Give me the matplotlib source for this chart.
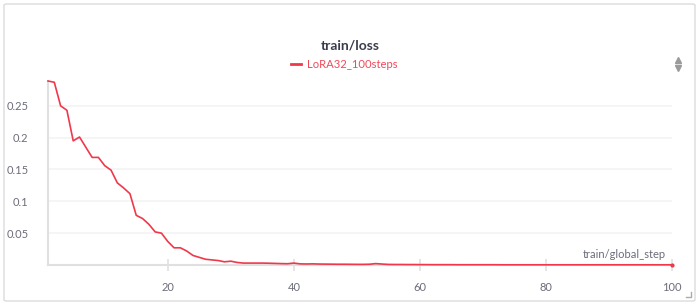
import matplotlib.pyplot as plt
from matplotlib.patches import FancyBboxPatch
from matplotlib.lines import Line2D

plt.rcParams['font.family'] = ['Lato', 'DejaVu Sans']

steps = list(range(1, 101))
loss_head = [0.289, 0.287, 0.250, 0.243, 0.195, 0.201, 0.185, 0.169, 0.169, 0.156,
             0.149, 0.129, 0.121, 0.112, 0.078, 0.073, 0.064, 0.052, 0.050, 0.037,
             0.027, 0.027, 0.022, 0.015, 0.012, 0.009, 0.008, 0.007, 0.005, 0.006,
             0.004, 0.003, 0.003, 0.003, 0.003, 0.0028, 0.0025, 0.0022, 0.002, 0.003,
             0.0018, 0.0016, 0.0018, 0.0015, 0.0014, 0.0013, 0.0012, 0.0012, 0.0011, 0.001,
             0.001, 0.0012, 0.0022, 0.0015, 0.0009, 0.0008, 0.0008, 0.0007, 0.0007, 0.0006]
loss_tail = [0.0006, 0.0005, 0.0005, 0.0005, 0.0005, 0.0004, 0.0004, 0.0004, 0.0004, 0.0004,
             0.0004, 0.0004, 0.0003, 0.0003, 0.0003, 0.0003, 0.0003, 0.0003, 0.0003, 0.0003,
             0.0003, 0.0003, 0.0003, 0.0003, 0.0003, 0.0003, 0.0003, 0.0003, 0.0003, 0.0003,
             0.0003, 0.0003, 0.0003, 0.0003, 0.0003, 0.0003, 0.0003, 0.0003, 0.0003, 0.0003]
loss = loss_head + loss_tail
yticks = [0.05, 0.1, 0.15, 0.2, 0.25]
ytick_labels = ['0.05', '0.1', '0.15', '0.2', '0.25']
xticks = [20, 40, 60, 80, 100]

red = '#f0384a'
label_grey = '#6b6d7a'
spine_grey = '#e0e0e0'

fig = plt.figure(figsize=(7, 3.05), dpi=100)

# panel frame, kept behind the axes
frame = FancyBboxPatch((4 / 700, 4 / 305), 691 / 700, 297 / 305,
                       boxstyle='round,pad=0,rounding_size=0.004',
                       transform=fig.transFigure, facecolor='white',
                       edgecolor='#dcdcdc', linewidth=1.0, zorder=-5)
fig.patches.append(frame)

ax = fig.add_axes([48 / 700, 1 - 265 / 305, 624 / 700, 184 / 305])
ax.set_zorder(2)
ax.set_facecolor('none')
# line sits above the spines so the flat tail stays red
ax.plot(steps, loss, color=red, linewidth=1.2, clip_on=False, zorder=4)
ax.plot(steps[-1], loss[-1], 'o', color=red, markersize=2, clip_on=False, zorder=4)
ax.set_xlim(1, 100)
ax.set_ylim(0, max(loss))

ax.set_yticks(yticks)
ax.set_yticklabels(ytick_labels)
ax.set_xticks(xticks)
ax.grid(axis='y', color='#f3f3f3', linewidth=1.2)
ax.set_axisbelow(True)

for side in ['top', 'right']:
    ax.spines[side].set_visible(False)
for side in ['left', 'bottom']:
    ax.spines[side].set_color(spine_grey)
    ax.spines[side].set_linewidth(1.5)

ax.tick_params(axis='y', length=0, pad=14, labelsize=8, labelcolor=label_grey)
ax.tick_params(axis='x', direction='inout', length=9, width=1.2, color=spine_grey,
               pad=8, labelsize=8, labelcolor=label_grey)

ax.text(0.99, 0.025, 'train/global_step', transform=ax.transAxes, ha='right', va='bottom',
        fontsize=8, color=label_grey)

fig.text(350 / 700, 1 - 46 / 305, 'train/loss', ha='center', va='center',
         fontsize=10, fontweight='bold', color='#3b3d4c')
fig.add_artist(Line2D([291 / 700, 301 / 700], [1 - 64 / 305, 1 - 64 / 305],
                      transform=fig.transFigure, color=red, linewidth=2))
fig.text(307 / 700, 1 - 64 / 305, 'LoRA32_100steps', ha='left', va='center',
         fontsize=8.1, color='#f04a5a')

# sort arrows and resize corner
fig.add_artist(Line2D([678 / 700], [1 - 60 / 305], transform=fig.transFigure,
                      marker='^', color='#9a9a9a', markersize=4, linestyle='none'))
fig.add_artist(Line2D([678 / 700], [1 - 68 / 305], transform=fig.transFigure,
                      marker='v', color='#9a9a9a', markersize=4, linestyle='none'))
fig.add_artist(Line2D([686 / 700, 691 / 700, 691 / 700], [1 - 297 / 305, 1 - 297 / 305, 1 - 292 / 305],
                      transform=fig.transFigure, color='#aaaaaa', linewidth=1))

fig.savefig('out.png', dpi=100)
